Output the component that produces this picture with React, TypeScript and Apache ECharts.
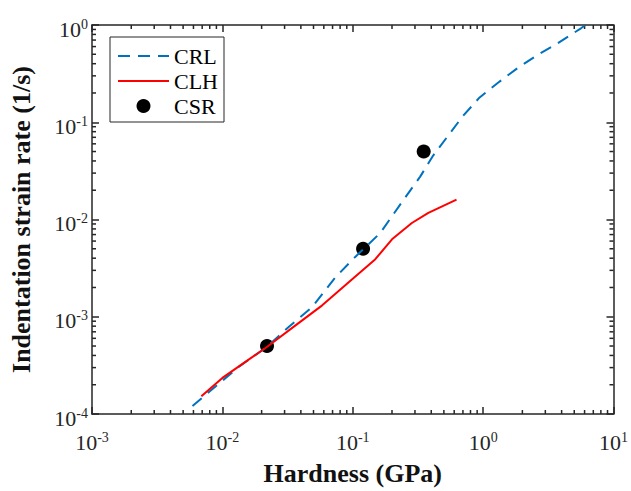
import React, { useEffect, useRef } from "react";
import * as echarts from "echarts";

const CRL_X = [0.0059, 0.00895, 0.0135, 0.0218, 0.0324, 0.0489, 0.0738, 0.104, 0.163, 0.2, 0.267, 0.329, 0.415, 0.54, 0.7, 0.94, 1.3, 1.85, 2.63, 3.74, 5.63, 6.1];
const CRL_Y = [1.21e-4, 1.94e-4, 3.09e-4, 4.86e-4, 7.9e-4, 1.26e-3, 2.55e-3, 4.1e-3, 7.3e-3, 0.0108, 0.0187, 0.0276, 0.0457, 0.073, 0.116, 0.18, 0.255, 0.363, 0.495, 0.651, 0.925, 1.0];

const CLH_X = [0.0069, 0.01, 0.0152, 0.0218, 0.0366, 0.0583, 0.0931, 0.149, 0.2, 0.284, 0.38, 0.625];
const CLH_Y = [1.52e-4, 2.35e-4, 3.48e-4, 4.86e-4, 8.2e-4, 1.31e-3, 2.26e-3, 3.91e-3, 6.25e-3, 9.2e-3, 0.0117, 0.016];

const CSR_X = [0.022, 0.12, 0.35];
const CSR_Y = [5e-4, 5e-3, 0.05];

const X_DECADES = [0.001, 0.01, 0.1, 1];
const Y_DECADES = [0.0001, 0.001, 0.01, 0.1];
const MINOR_MULTS = [2, 3, 4, 5, 6, 7, 8, 9];

const FONT = "Liberation Serif, Times New Roman, serif";
const AX = "#262626";

export default function App() {
  const ref = useRef<HTMLDivElement>(null);
  useEffect(() => {
    if (!ref.current) return;
    const chart = echarts.init(ref.current, null, { renderer: "svg" });

    const xMinor: number[] = [];
    X_DECADES.forEach((d) => MINOR_MULTS.forEach((m) => xMinor.push(d * m)));
    const yMinor: number[] = [];
    Y_DECADES.forEach((d) => MINOR_MULTS.forEach((m) => yMinor.push(d * m)));

    const fmt = (v: number) => {
      const e = Math.round(Math.log10(v));
      return `{b|10}{s|${e}}`;
    };
    const rich = {
      b: { fontFamily: FONT, fontSize: 22, lineHeight: 24, color: AX },
      s: { fontFamily: FONT, fontSize: 14, lineHeight: 14, verticalAlign: "top", color: AX },
    };
    const mkLine = () => ({ show: true, onZero: false, lineStyle: { color: AX, width: 1.5 } });
    const mkTick = () => ({ show: true, inside: true, length: 7, lineStyle: { color: AX, width: 1.5 } });

    const option: any = {
      animation: false,
      grid: { left: 92, right: 15, top: 25, bottom: 73 },
      legend: {
        left: 110,
        top: 37,
        orient: "vertical",
        itemWidth: 51,
        itemHeight: 14,
        itemGap: 3,
        padding: [8, 6, 5, 7],
        borderColor: AX,
        borderWidth: 1,
        backgroundColor: "#fff",
        textStyle: { fontFamily: FONT, fontSize: 22, color: "#000" },
        data: [
          { name: "CRL", itemStyle: { opacity: 0 } },
          { name: "CLH", itemStyle: { opacity: 0 } },
          { name: "CSR" },
        ],
      },
      xAxis: [
        {
          type: "log",
          min: 0.001,
          max: 10,
          position: "bottom",
          axisLine: mkLine(),
          axisTick: mkTick(),
          splitLine: { show: false },
          axisLabel: { formatter: fmt, rich, margin: 16 },
          name: "Hardness (GPa)",
          nameLocation: "middle",
          nameGap: 46,
          nameTextStyle: { fontFamily: FONT, fontSize: 26, fontWeight: "bold", color: "#111" },
        },
        {
          type: "log",
          min: 0.001,
          max: 10,
          position: "top",
          axisLine: mkLine(),
          axisTick: mkTick(),
          splitLine: { show: false },
          axisLabel: { show: false },
        },
      ],
      yAxis: [
        {
          type: "log",
          min: 0.0001,
          max: 1,
          position: "left",
          axisLine: mkLine(),
          axisTick: mkTick(),
          splitLine: { show: false },
          axisLabel: { formatter: fmt, rich, margin: 4, padding: [8, 0, 0, 0] },
          name: "Indentation strain rate (1/s)",
          nameLocation: "middle",
          nameGap: 58,
          nameTextStyle: { fontFamily: FONT, fontSize: 26, fontWeight: "bold", color: "#111" },
        },
        {
          type: "log",
          min: 0.0001,
          max: 1,
          position: "right",
          axisLine: mkLine(),
          axisTick: mkTick(),
          splitLine: { show: false },
          axisLabel: { show: false },
        },
      ],
      series: [
        {
          name: "CRL",
          type: "line",
          color: "#0072BD",
          data: CRL_X.map((x, i) => [x, CRL_Y[i]]),
          symbol: "none",
          lineStyle: { type: [12, 8] },
        },
        {
          name: "CLH",
          type: "line",
          color: "#FF0000",
          data: CLH_X.map((x, i) => [x, CLH_Y[i]]),
          symbol: "none",
        },
        {
          name: "CSR",
          type: "scatter",
          color: "#000",
          data: CSR_X.map((x, i) => [x, CSR_Y[i]]),
          symbol: "circle",
          symbolSize: 14,
          itemStyle: { opacity: 1 },
        },
        {
          type: "custom",
          data: xMinor.map((v) => [v, 0.01]),
          renderItem: (params: any, api: any) => {
            const cs = params.coordSys;
            const px = api.coord([api.value(0), 0.01])[0];
            return {
              type: "group",
              children: [
                { type: "line", shape: { x1: px, y1: cs.y + cs.height, x2: px, y2: cs.y + cs.height - 4 }, style: { stroke: AX, lineWidth: 1.5 } },
                { type: "line", shape: { x1: px, y1: cs.y, x2: px, y2: cs.y + 4 }, style: { stroke: AX, lineWidth: 1.5 } },
              ],
            };
          },
        },
        {
          type: "custom",
          data: yMinor.map((v) => [0.01, v]),
          renderItem: (params: any, api: any) => {
            const cs = params.coordSys;
            const py = api.coord([0.01, api.value(1)])[1];
            return {
              type: "group",
              children: [
                { type: "line", shape: { x1: cs.x, y1: py, x2: cs.x + 4, y2: py }, style: { stroke: AX, lineWidth: 1.5 } },
                { type: "line", shape: { x1: cs.x + cs.width, y1: py, x2: cs.x + cs.width - 4, y2: py }, style: { stroke: AX, lineWidth: 1.5 } },
              ],
            };
          },
        },
      ],
    };
    chart.setOption(option);
    return () => chart.dispose();
  }, []);
  return <div ref={ref} style={{ position: "fixed", left: 0, top: 0, width: 631, height: 491, background: "#fff" }} />;
}
